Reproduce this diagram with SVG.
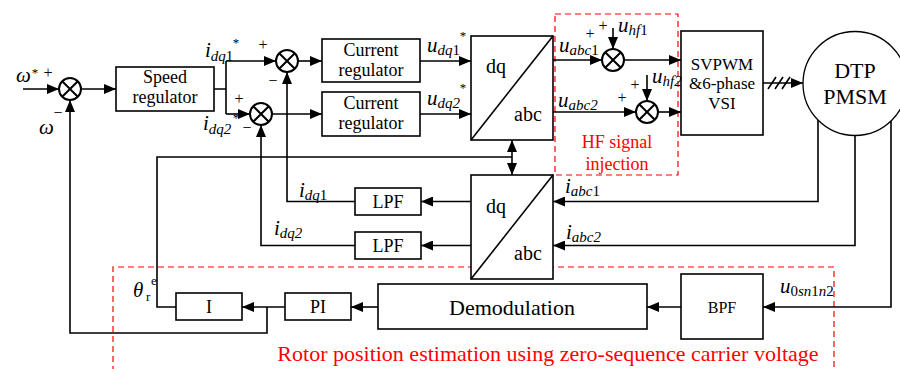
<svg xmlns="http://www.w3.org/2000/svg" width="900" height="369" viewBox="0 0 900 369">
<defs>
<marker id="ah" markerWidth="12" markerHeight="10" refX="12" refY="5" orient="auto" markerUnits="userSpaceOnUse"><path d="M0,0 L12,5 L0,10 z" fill="#000"/></marker>
<marker id="ah2" markerWidth="12" markerHeight="10" refX="12" refY="5" orient="auto-start-reverse" markerUnits="userSpaceOnUse"><path d="M0,0 L12,5 L0,10 z" fill="#000"/></marker>
</defs>
<style>
.box{fill:#fff;stroke:#000;stroke-width:1.6}
.sum circle{fill:#fff;stroke:#000;stroke-width:2}
.sum path{fill:none;stroke:#000;stroke-width:2}
.wire{fill:none;stroke:#000;stroke-width:1.6}
.arr{marker-end:url(#ah)}
.t{font-family:"Liberation Serif","Times New Roman",serif;fill:#000}
.lbl{font-size:18px;text-anchor:middle}
.var{font-style:italic;font-size:21px}
.sub{font-size:15px}
.up{font-style:normal}
.sgn{font-size:16px;text-anchor:middle}
.star{font-size:13px;text-anchor:middle}
.red{fill:#f00}
.dash{fill:none;stroke:#f00;stroke-width:1.2;stroke-dasharray:6,4}
</style>
<rect width="900" height="369" fill="#fff"/>

<!-- red dashed regions -->
<g id="hf-region">
<rect class="dash" x="555" y="14" width="123" height="161"/>
<text class="t red" x="617" y="148" font-size="18" text-anchor="middle">HF signal</text>
<text class="t red" x="617" y="170" font-size="18" text-anchor="middle">injection</text>
</g>
<g id="estimation-region">
<path class="dash" d="M113,372 V267 H834 V372"/>
<text class="t red" x="548" y="361" font-size="22" text-anchor="middle">Rotor position estimation using zero-sequence carrier voltage</text>
</g>

<!-- connectors -->
<g id="connectors">
<path class="wire arr" d="M23,89 H59"/>
<path class="wire arr" d="M81,89 H116"/>
<path class="wire" d="M214,89 H226 M226,61 V114"/>
<path class="wire arr" d="M226,61 H276"/>
<path class="wire arr" d="M226,114 H250"/>
<path class="wire arr" d="M298,61 H322"/>
<path class="wire arr" d="M272,114 H322"/>
<path class="wire arr" d="M420,61 H471"/>
<path class="wire arr" d="M420,114 H471"/>
<path class="wire arr" d="M553,60 H602"/>
<path class="wire arr" d="M553,112 H636"/>
<path class="wire arr" d="M613,28 V49"/>
<path class="wire arr" d="M647,75 V101"/>
<path class="wire arr" d="M624,60 H681"/>
<path class="wire arr" d="M658,112 H681"/>
<path class="wire arr" d="M763,83 H803"/>
<path class="wire" d="M768,89 L776,77 M775,89 L783,77 M782,89 L790,77"/>
<path class="wire arr" d="M818,120 V201.5 H553"/>
<path class="wire arr" d="M855,135.5 V245.5 H553"/>
<path class="wire arr" d="M891,121 V307 H763"/>
<path class="wire arr" d="M471,201.5 H421"/>
<path class="wire arr" d="M471,245.5 H421"/>
<path class="wire arr" d="M355,201.5 H287 V72"/>
<path class="wire arr" d="M355,245.5 H261 V125"/>
<path class="wire arr" d="M681,307 H647"/>
<path class="wire arr" d="M378,307 H351"/>
<path class="wire arr" d="M285,307 H242"/>
<path class="wire arr" d="M267,307 V333 H70 V100"/>
<path class="wire" d="M176,307 H157 V157 H512"/>
<path class="wire" d="M512,140 V175" marker-start="url(#ah2)" marker-end="url(#ah2)"/>
</g>

<!-- summing junctions -->
<g id="sum1" class="sum"><circle cx="70" cy="89" r="11"/><path d="M62.2,81.2 L77.8,96.8 M77.8,81.2 L62.2,96.8"/></g>
<g id="sum2" class="sum"><circle cx="287" cy="61" r="11"/><path d="M279.2,53.2 L294.8,68.8 M294.8,53.2 L279.2,68.8"/></g>
<g id="sum3" class="sum"><circle cx="261" cy="114" r="11"/><path d="M253.2,106.2 L268.8,121.8 M268.8,106.2 L253.2,121.8"/></g>
<g id="sum4" class="sum"><circle cx="613" cy="60" r="11"/><path d="M605.2,52.2 L620.8,67.8 M620.8,52.2 L605.2,67.8"/></g>
<g id="sum5" class="sum"><circle cx="647" cy="112" r="11"/><path d="M639.2,104.2 L654.8,119.8 M654.8,104.2 L639.2,119.8"/></g>

<!-- blocks -->
<g id="speed-regulator">
<rect class="box" x="116" y="67" width="98" height="44"/>
<text class="t lbl" x="165" y="83">Speed</text>
<text class="t lbl" x="165" y="103">regulator</text>
</g>
<g id="current-regulator-1">
<rect class="box" x="322" y="39" width="98" height="43"/>
<text class="t lbl" x="371" y="56">Current</text>
<text class="t lbl" x="371" y="76">regulator</text>
</g>
<g id="current-regulator-2">
<rect class="box" x="322" y="92" width="98" height="44"/>
<text class="t lbl" x="371" y="109">Current</text>
<text class="t lbl" x="371" y="129">regulator</text>
</g>
<g id="dq-abc-top">
<rect class="box" x="471" y="36" width="82" height="104"/>
<path class="wire" d="M471,140 L553,36"/>
<text class="t" x="496" y="73" font-size="20" text-anchor="middle">dq</text>
<text class="t" x="528" y="121" font-size="20" text-anchor="middle">abc</text>
</g>
<g id="dq-abc-bottom">
<rect class="box" x="471" y="175" width="82" height="104"/>
<path class="wire" d="M471,279 L553,175"/>
<text class="t" x="496" y="213" font-size="20" text-anchor="middle">dq</text>
<text class="t" x="528" y="260" font-size="20" text-anchor="middle">abc</text>
</g>
<g id="svpwm">
<rect class="box" x="681" y="31" width="82" height="104"/>
<text class="t" x="722" y="70" font-size="17" text-anchor="middle">SVPWM</text>
<text class="t" x="722" y="89" font-size="17" text-anchor="middle">&amp;6-phase</text>
<text class="t" x="722" y="109" font-size="17" text-anchor="middle">VSI</text>
</g>
<g id="dtp-pmsm">
<circle cx="855" cy="83.5" r="52" fill="#fff" stroke="#000" stroke-width="1.3"/>
<text class="t" x="855" y="78" font-size="22" text-anchor="middle">DTP</text>
<text class="t" x="855" y="104" font-size="22" text-anchor="middle">PMSM</text>
</g>
<g id="lpf-1">
<rect class="box" x="355" y="188" width="66" height="27"/>
<text class="t lbl" x="388" y="208">LPF</text>
</g>
<g id="lpf-2">
<rect class="box" x="355" y="232" width="66" height="27"/>
<text class="t lbl" x="388" y="252">LPF</text>
</g>
<g id="integrator">
<rect class="box" x="176" y="293" width="66" height="27"/>
<text class="t lbl" x="209" y="313">I</text>
</g>
<g id="pi">
<rect class="box" x="285" y="293" width="66" height="27"/>
<text class="t lbl" x="318" y="313">PI</text>
</g>
<g id="demodulation">
<rect class="box" x="378" y="284" width="269" height="45"/>
<text class="t" x="512" y="315" font-size="22" text-anchor="middle">Demodulation</text>
</g>
<g id="bpf">
<rect class="box" x="681" y="274" width="82" height="65"/>
<text class="t" x="722" y="313" font-size="16" text-anchor="middle">BPF</text>
</g>

<!-- signal labels -->
<g id="labels">
<text class="t var" x="16" y="82" font-size="23">ω</text>
<text class="t star" x="35" y="77">*</text>
<text class="t sgn" x="48" y="78">+</text>
<text class="t sgn" x="58" y="118">−</text>
<text class="t var" x="39" y="134" font-size="23">ω</text>

<text class="t var" x="205" y="57">i<tspan class="sub" dy="4">dq</tspan><tspan class="sub up">1</tspan></text>
<text class="t star" x="236" y="47">*</text>
<text class="t sgn" x="263" y="50">+</text>
<text class="t sgn" x="273" y="86">−</text>

<text class="t var" x="203" y="130">i<tspan class="sub" dy="4">dq2</tspan></text>
<text class="t star" x="236" y="122">*</text>
<text class="t sgn" x="239" y="104">+</text>
<text class="t sgn" x="247" y="133">−</text>

<text class="t var" x="427" y="52">u<tspan class="sub" dy="3">dq</tspan><tspan class="sub up">1</tspan></text>
<text class="t star" x="463" y="40">*</text>
<text class="t var" x="427" y="105">u<tspan class="sub" dy="3">dq2</tspan></text>
<text class="t star" x="463" y="92">*</text>

<text class="t var" x="559" y="52">u<tspan class="sub" dy="3">abc</tspan><tspan class="sub up">1</tspan></text>
<text class="t sgn" x="590" y="39">+</text>
<text class="t sgn" x="603" y="31">+</text>
<text class="t var" x="618" y="32">u<tspan class="sub" dy="3">hf</tspan><tspan class="sub up">1</tspan></text>

<text class="t var" x="558" y="107">u<tspan class="sub" dy="3">abc2</tspan></text>
<text class="t sgn" x="622" y="103">+</text>
<text class="t sgn" x="635" y="90">+</text>
<text class="t var" x="652" y="83">u<tspan class="sub" dy="3">hf2</tspan></text>

<text class="t var" x="565" y="193">i<tspan class="sub" dy="3">abc</tspan><tspan class="sub up">1</tspan></text>
<text class="t var" x="566" y="239">i<tspan class="sub" dy="3">abc2</tspan></text>

<text class="t var" x="299" y="197">i<tspan class="sub" dy="3">dq</tspan><tspan class="sub up">1</tspan></text>
<text class="t var" x="274" y="235">i<tspan class="sub" dy="3">dq2</tspan></text>

<text class="t var" x="133" y="297" font-size="23">θ</text>
<text class="t" x="146" y="301" font-size="13">r</text>
<text class="t" x="151" y="285" font-size="13">e</text>

<text class="t var" x="780" y="293">u<tspan class="sub up" dy="3">0</tspan><tspan class="sub">sn</tspan><tspan class="sub up">1</tspan><tspan class="sub">n</tspan><tspan class="sub up">2</tspan></text>
</g>
</svg>
